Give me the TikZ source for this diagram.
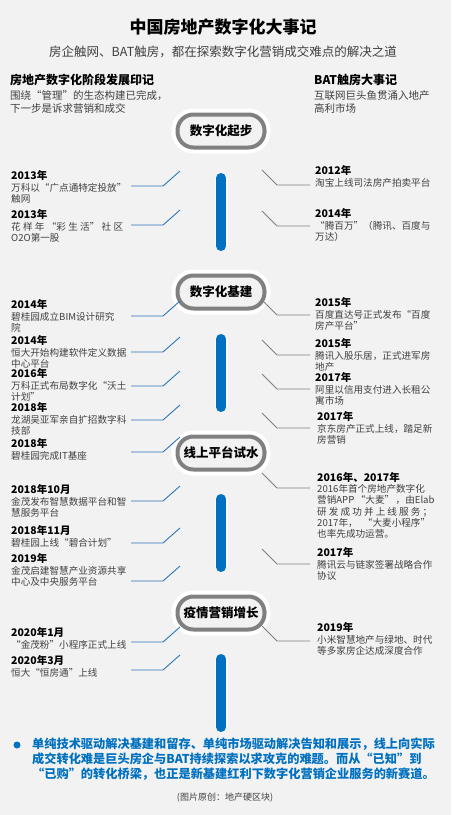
\documentclass[tikz,border=0pt]{standalone}
\usepackage{fontspec}
\setmainfont{Noto Sans CJK SC}
\definecolor{bgcol}{HTML}{F2F2F2}
\definecolor{barblue}{HTML}{0070C0}
\definecolor{linkblue}{HTML}{2E75B6}
\definecolor{ringgray}{HTML}{808080}
\definecolor{linkgray}{HTML}{7F7F7F}
\definecolor{bodygray}{HTML}{404040}
\newcommand{\yr}[1]{{\color{black}\bfseries\fontsize{10.5}{11.8}\selectfont #1}}
\newcommand{\fillrow}[2]{\makebox[#1][s]{#2}}
\begin{document}
\begin{tikzpicture}[x=1pt,y=-1pt,
  stage/.style={draw=ringgray,line width=4pt,fill=bgcol,rounded corners=16pt,minimum width=87pt,minimum height=33pt,inner sep=0pt,font=\bfseries\fontsize{12.5}{14}\selectfont,preaction={draw=white,line width=12pt}},
  bar/.style={draw=barblue,line width=10pt,line cap=round,preaction={draw=white,line width=13pt}},
  entry/.style={anchor=north west,inner sep=0pt,align=left,text=bodygray,font=\fontsize{9.6}{11.8}\selectfont},
  lcon/.style={draw=linkblue,line width=0.9pt},
  rcon/.style={draw=linkgray,line width=0.9pt},
  head/.style={anchor=west,inner sep=0pt,font=\bfseries\fontsize{12}{14}\selectfont},
  intro/.style={anchor=north west,inner sep=0pt,align=left,text=bodygray,font=\fontsize{10.5}{13.5}\selectfont}]
\fill[bgcol] (0,0) rectangle (451,815);
% title
\node[font=\bfseries\fontsize{17}{20}\selectfont] (title) at (223,27) {中国房地产数字化大事记};
\node[text=bodygray,font=\fontsize{12.5}{15}\selectfont] (subtitle) at (223,52) {房企触网、BAT触房，都在探索数字化营销成交难点的解决之道};
\node[head] (lhead) at (10,80) {房地产数字化阶段发展印记};
\node[intro] (lintro) at (10,90) {围绕“管理”的生态构建已完成，\\下一步是诉求营销和成交};
\node[head] (rhead) at (314,80) {BAT触房大事记};
\node[intro] (rintro) at (314,90) {互联网巨头鱼贯涌入地产\\高利市场};
% stages and timeline
\node[stage] (s1) at (221,131) {数字化起步};
\node[stage] (s2) at (221,292) {数字化基建};
\node[stage] (s3) at (221,453) {线上平台试水};
\node[stage] (s4) at (221,613) {疫情营销增长};
\draw[bar] (s1.center) ++(0,47) -- ++(0,68);
\draw[bar] (s2.center) ++(0,47) -- ++(0,68);
\draw[bar] (s3.center) ++(0,46) -- ++(0,68);
\draw[bar] (s4.center) ++(0,46) -- ++(0,68);
% left column
\node[entry] (l1) at (11,170) {\yr{2013年}\\万科以“广点通特定投放”\\触网};
\node[entry] (l2) at (11,209) {\yr{2013年}\\\fillrow{112pt}{花 样 年 “彩 生 活” 社 区}\\O2O第一股};
\node[entry] (l3) at (11,299) {\yr{2014年}\\碧桂园成立BIM设计研究\\院};
\node[entry] (l4) at (11,335) {\yr{2014年}\\恒大开始构建软件定义数据\\中心平台};
\node[entry] (l5) at (11,368) {\yr{2016年}\\万科正式布局数字化“沃土\\计划”};
\node[entry] (l6) at (11,402) {\yr{2018年}\\龙湖吴亚军亲自扩招数字科\\技部};
\node[entry] (l7) at (11,438) {\yr{2018年}\\碧桂园完成IT基座};
\node[entry] (l8) at (11,484) {\yr{2018年10月}\\金茂发布智慧数据平台和智\\慧服务平台};
\node[entry] (l9) at (11,525) {\yr{2018年11月}\\碧桂园上线“碧合计划”};
\node[entry] (l10) at (11,553) {\yr{2019年}\\金茂启建智慧产业资源共享\\中心及中央服务平台};
\node[entry] (l11) at (11,627) {\yr{2020年1月}\\“金茂粉”小程序正式上线};
\node[entry] (l12) at (11,655) {\yr{2020年3月}\\恒大“恒房通”上线};
\foreach \n/\h in {a/186,b/225,c/316,d/352,e/386,f/420,g/452,h/501,i/543,j/581,k/642,m/670}
  \coordinate (la\n) at (131,\h);
\foreach \n in {a,b,c,d,e,f,g,h,i,j,k,m}
  \draw[lcon] (la\n) -- ++(32,0) -- ++(17,-15);
% right column
\node[entry] (r1) at (315,165) {\yr{2012年}\\淘宝上线司法房产拍卖平台};
\node[entry] (r2) at (315,208) {\yr{2014年}\\“腾百万”（腾讯、百度与\\万达）};
\node[entry] (r3) at (315,297) {\yr{2015年}\\百度直达号正式发布“百度\\房产平台”};
\node[entry] (r4) at (315,338) {\yr{2015年}\\腾讯入股乐居，正式进军房\\地产};
\node[entry] (r5) at (315,372) {\yr{2017年}\\阿里以信用支付进入长租公\\寓市场};
\node[entry] (r6) at (317,411) {\yr{2017年}\\京东房产正式上线，踏足新\\房营销};
\node[entry,font=\fontsize{9.6}{11.3}\selectfont] (r7) at (317,472) {\yr{2016年、2017年}\\2016年首个房地产数字化\\\fillrow{115pt}{营销APP “大麦” ，由Elab}\\\fillrow{115pt}{研 发 成 功 并 上 线 服 务 ；}\\\fillrow{113pt}{2017年， “大麦小程序”}\\也率先成功运营。};
\node[entry] (r8) at (317,547) {\yr{2017年}\\腾讯云与链家签署战略合作\\协议};
\node[entry] (r9) at (317,622) {\yr{2019年}\\小米智慧地产与绿地、时代\\等多家房企达成深度合作};
\foreach \n/\h in {a/185,b/226,c/315,d/355,e/389,f/428,g/488,h/564,i/641}
  \coordinate (ra\n) at (310,\h);
\foreach \n in {a,b,c,d,e,f,g,h,i}
  \draw[rcon] (ra\n) -- ++(-33,0) -- ++(-15,-15);
% summary
\node[circle,fill=barblue,inner sep=0pt,minimum size=7pt] (dot) at (17,745) {};
\node[anchor=north west,inner sep=0pt,align=left,text=barblue,font=\bfseries\fontsize{12.2}{15}\selectfont] (note) at (32,738) {单纯技术驱动解决基建和留存、单纯市场驱动解决告知和展示，线上向实际\\成交转化难是巨头房企与BAT持续探索以求攻克的难题。而从“已知”到\\“已购”的转化桥梁，也正是新基建红利下数字化营销企业服务的新赛道。};
\node[text=bodygray,font=\fontsize{9}{11}\selectfont] (source) at (225,798) {(图片原创：地产硬区块)};
\end{tikzpicture}
\end{document}
